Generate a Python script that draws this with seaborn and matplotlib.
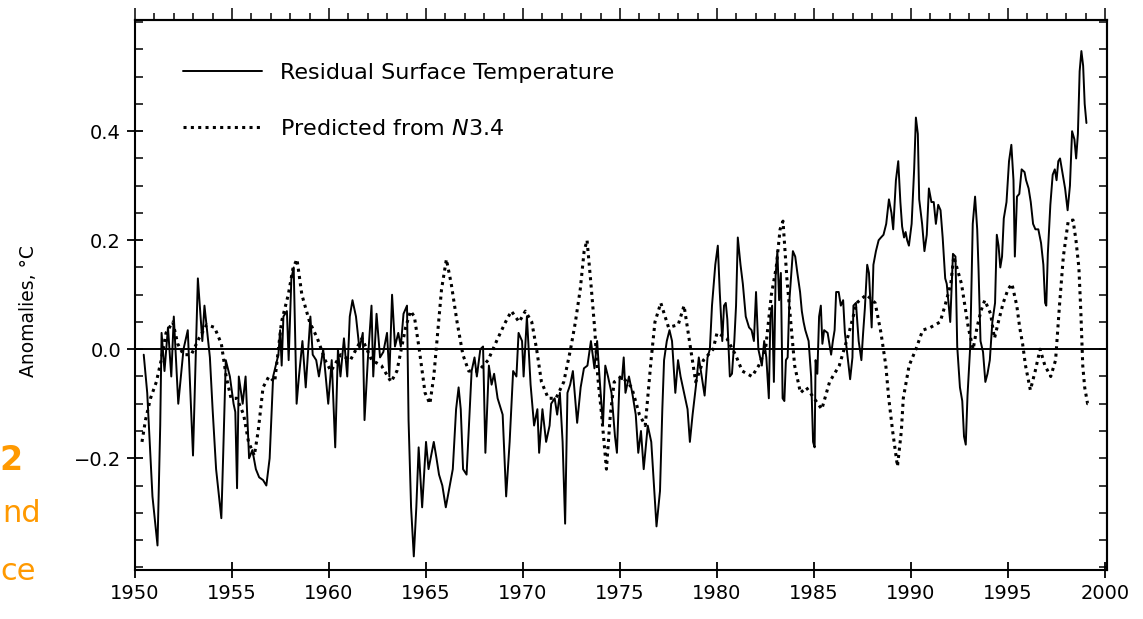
import matplotlib
matplotlib.use("Agg")
import matplotlib.pyplot as plt
import seaborn as sns
import pandas as pd
import numpy as np
from matplotlib.ticker import MultipleLocator

# ---------------- data ----------------
residual_years = [
    1950.45, 1950.63, 1950.90, 1951.16, 1951.30, 1951.37, 1951.52, 1951.70, 1951.87, 1952.00,
    1952.23, 1952.50, 1952.72, 1952.99, 1953.24, 1953.47, 1953.58, 1953.86, 1954.00, 1954.18,
    1954.45, 1954.54, 1954.68, 1954.89, 1955.08, 1955.17, 1955.26, 1955.35, 1955.55, 1955.70,
    1955.88, 1956.05, 1956.23, 1956.40, 1956.60, 1956.77, 1956.94, 1957.12, 1957.39, 1957.48,
    1957.56, 1957.65, 1957.83, 1957.92, 1958.06, 1958.18, 1958.33, 1958.45, 1958.63, 1958.80,
    1959.04, 1959.16, 1959.34, 1959.48, 1959.70, 1959.96, 1960.14, 1960.32, 1960.46, 1960.59,
    1960.77, 1960.94, 1961.07, 1961.21, 1961.39, 1961.57, 1961.74, 1961.83, 1962.00, 1962.19,
    1962.28, 1962.45, 1962.63, 1962.80, 1962.99, 1963.11, 1963.25, 1963.40, 1963.57, 1963.70,
    1963.84, 1964.02, 1964.10, 1964.23, 1964.37, 1964.50, 1964.62, 1964.80, 1965.00, 1965.13,
    1965.40, 1965.54, 1965.67, 1965.84, 1966.02, 1966.20, 1966.38, 1966.55, 1966.68, 1966.79,
    1966.91, 1967.09, 1967.27, 1967.35, 1967.50, 1967.62, 1967.80, 1967.94, 1968.06, 1968.24,
    1968.38, 1968.51, 1968.69, 1968.95, 1969.13, 1969.31, 1969.49, 1969.66, 1969.77, 1969.95,
    1970.03, 1970.20, 1970.39, 1970.57, 1970.74, 1970.83, 1971.00, 1971.19, 1971.37, 1971.45,
    1971.63, 1971.76, 1971.90, 1972.04, 1972.17, 1972.29, 1972.43, 1972.57, 1972.79, 1972.97,
    1973.14, 1973.32, 1973.50, 1973.68, 1973.82, 1973.94, 1974.12, 1974.24, 1974.38, 1974.56,
    1974.74, 1974.84, 1974.98, 1975.10, 1975.19, 1975.28, 1975.46, 1975.63, 1975.81, 1975.94,
    1976.08, 1976.22, 1976.43, 1976.61, 1976.75, 1976.88, 1977.06, 1977.18, 1977.27, 1977.41,
    1977.55, 1977.68, 1977.85, 1977.99, 1978.12, 1978.30, 1978.48, 1978.60, 1978.74, 1978.92,
    1979.06, 1979.19, 1979.36, 1979.51, 1979.63, 1979.74, 1979.91, 1980.04, 1980.14, 1980.27,
    1980.36, 1980.45, 1980.53, 1980.66, 1980.77, 1980.89, 1980.98, 1981.07, 1981.21, 1981.33,
    1981.48, 1981.65, 1981.78, 1981.90, 1982.01, 1982.13, 1982.31, 1982.43, 1982.54, 1982.67,
    1982.75, 1982.84, 1982.93, 1983.02, 1983.11, 1983.20, 1983.29, 1983.38, 1983.47, 1983.55,
    1983.64, 1983.73, 1983.91, 1984.03, 1984.14, 1984.28, 1984.37, 1984.46, 1984.55, 1984.72,
    1984.85, 1984.95, 1985.03, 1985.08, 1985.17, 1985.26, 1985.35, 1985.43, 1985.52, 1985.70,
    1985.88, 1985.97, 1986.06, 1986.14, 1986.27, 1986.38, 1986.50, 1986.59, 1986.73, 1986.86,
    1986.98, 1987.03, 1987.16, 1987.30, 1987.44, 1987.53, 1987.62, 1987.74, 1987.83, 1987.97,
    1988.06, 1988.19, 1988.33, 1988.45, 1988.58, 1988.72, 1988.86, 1988.99, 1989.08, 1989.22,
    1989.34, 1989.45, 1989.54, 1989.64, 1989.72, 1989.80, 1989.89, 1990.03, 1990.16, 1990.25,
    1990.35, 1990.42, 1990.57, 1990.69, 1990.81, 1990.92, 1991.05, 1991.17, 1991.28, 1991.40,
    1991.52, 1991.63, 1991.76, 1991.84, 1991.93, 1992.02, 1992.16, 1992.29, 1992.38, 1992.52,
    1992.64, 1992.73, 1992.82, 1992.91, 1993.05, 1993.18, 1993.30, 1993.41, 1993.48, 1993.58,
    1993.71, 1993.83, 1993.94, 1994.06, 1994.19, 1994.33, 1994.42, 1994.51, 1994.60, 1994.69,
    1994.78, 1994.92, 1995.05, 1995.17, 1995.28, 1995.35, 1995.46, 1995.58, 1995.70, 1995.85,
    1995.93, 1996.06, 1996.17, 1996.29, 1996.41, 1996.56, 1996.70, 1996.82, 1996.91, 1996.97,
    1997.05, 1997.18, 1997.30, 1997.41, 1997.50, 1997.59, 1997.68, 1997.80, 1997.94, 1998.07,
    1998.19, 1998.30, 1998.42, 1998.51, 1998.60, 1998.69, 1998.78, 1998.87, 1998.95, 1999.04,
]
residual_values = [
    -0.01, -0.08, -0.27, -0.36, -0.14, 0.03, -0.04, 0.04, -0.05, 0.06,
    -0.10, 0.00, 0.035, -0.195, 0.13, 0.015, 0.08, -0.015, -0.11, -0.22,
    -0.31, -0.20, -0.02, -0.05, -0.10, -0.115, -0.255, -0.05, -0.10, -0.05,
    -0.20, -0.185, -0.22, -0.235, -0.24, -0.25, -0.20, -0.05, -0.01, 0.035,
    -0.03, 0.06, 0.07, -0.02, 0.13, 0.15, -0.10, -0.05, 0.015, -0.07,
    0.06, -0.01, -0.02, -0.05, 0.00, -0.10, -0.02, -0.18, 0.00, -0.05,
    0.02, -0.05, 0.06, 0.09, 0.06, 0.00, 0.03, -0.13, -0.02, 0.08,
    -0.05, 0.065, -0.015, -0.005, 0.03, -0.05, 0.10, 0.005, 0.03, 0.005,
    0.065, 0.08, -0.13, -0.29, -0.38, -0.29, -0.18, -0.29, -0.17, -0.22,
    -0.17, -0.20, -0.23, -0.25, -0.29, -0.255, -0.22, -0.11, -0.07, -0.11,
    -0.22, -0.23, -0.10, -0.04, -0.015, -0.05, 0.00, 0.005, -0.19, -0.03,
    -0.065, -0.045, -0.09, -0.12, -0.27, -0.17, -0.04, -0.05, 0.03, 0.015,
    -0.05, 0.06, -0.065, -0.14, -0.11, -0.19, -0.11, -0.17, -0.14, -0.10,
    -0.09, -0.12, -0.08, -0.17, -0.32, -0.08, -0.065, -0.04, -0.135, -0.07,
    -0.035, -0.03, 0.015, -0.035, 0.015, -0.05, -0.14, -0.03, -0.05, -0.08,
    -0.16, -0.19, -0.05, -0.055, -0.015, -0.08, -0.05, -0.08, -0.12, -0.19,
    -0.15, -0.22, -0.14, -0.17, -0.25, -0.325, -0.26, -0.11, -0.02, 0.015,
    0.035, 0.015, -0.08, -0.02, -0.05, -0.08, -0.11, -0.17, -0.12, -0.065,
    -0.015, -0.045, -0.085, -0.015, 0.00, 0.08, 0.155, 0.19, 0.105, 0.015,
    0.08, 0.085, 0.055, -0.05, -0.045, 0.015, 0.08, 0.205, 0.155, 0.12,
    0.06, 0.04, 0.035, 0.015, 0.105, 0.00, -0.03, 0.015, -0.015, -0.09,
    0.06, 0.08, -0.06, 0.135, 0.18, 0.09, 0.14, -0.09, -0.095, -0.02,
    -0.015, 0.09, 0.18, 0.17, 0.14, 0.105, 0.07, 0.05, 0.035, 0.015,
    -0.05, -0.17, -0.18, -0.02, -0.045, 0.06, 0.08, 0.01, 0.035, 0.03,
    -0.01, 0.015, 0.035, 0.105, 0.105, 0.08, 0.09, 0.03, -0.015, -0.055,
    -0.015, 0.08, 0.085, 0.015, -0.02, 0.03, 0.075, 0.155, 0.14, 0.04,
    0.155, 0.18, 0.20, 0.205, 0.21, 0.23, 0.275, 0.25, 0.22, 0.31,
    0.345, 0.27, 0.225, 0.205, 0.215, 0.20, 0.19, 0.23, 0.33, 0.425,
    0.395, 0.275, 0.23, 0.18, 0.21, 0.295, 0.27, 0.27, 0.23, 0.265,
    0.255, 0.205, 0.13, 0.12, 0.085, 0.05, 0.175, 0.17, 0.005, -0.07,
    -0.095, -0.16, -0.175, -0.085, 0.005, 0.23, 0.28, 0.22, 0.145, 0.015,
    -0.005, -0.06, -0.045, -0.02, 0.05, 0.085, 0.21, 0.19, 0.15, 0.17,
    0.24, 0.27, 0.345, 0.375, 0.31, 0.17, 0.28, 0.285, 0.33, 0.325,
    0.31, 0.295, 0.27, 0.23, 0.22, 0.22, 0.195, 0.155, 0.085, 0.08,
    0.175, 0.265, 0.32, 0.33, 0.31, 0.345, 0.35, 0.325, 0.295, 0.255,
    0.30, 0.40, 0.385, 0.35, 0.395, 0.51, 0.547, 0.52, 0.45, 0.415,
]

predicted_years = [
    1950.36, 1950.54, 1950.80, 1951.10, 1951.35, 1951.60, 1951.95, 1952.20, 1952.50, 1952.90,
    1953.30, 1953.70, 1954.10, 1954.45, 1954.70, 1954.95, 1955.25, 1955.60, 1955.85, 1956.15,
    1956.35, 1956.60, 1956.90, 1957.20, 1957.55, 1957.90, 1958.15, 1958.35, 1958.60, 1959.00,
    1959.40, 1959.80, 1960.10, 1960.60, 1961.10, 1961.70, 1962.20, 1962.70, 1963.20, 1963.50,
    1963.95, 1964.20, 1964.40, 1964.65, 1964.95, 1965.20, 1965.40, 1965.60, 1965.80, 1966.05,
    1966.30, 1966.60, 1966.90, 1967.20, 1967.70, 1968.20, 1968.70, 1969.10, 1969.40, 1969.80,
    1970.12, 1970.45, 1970.70, 1970.95, 1971.30, 1971.70, 1972.10, 1972.45, 1972.70, 1972.95,
    1973.15, 1973.30, 1973.50, 1973.70, 1973.85, 1974.05, 1974.30, 1974.50, 1974.70, 1975.10,
    1975.60, 1976.00, 1976.30, 1976.60, 1976.80, 1977.10, 1977.50, 1978.00, 1978.30, 1978.60,
    1978.90, 1979.30, 1979.80, 1980.00, 1980.50, 1980.95, 1981.30, 1981.80, 1982.15, 1982.50,
    1982.65, 1982.80, 1983.05, 1983.25, 1983.40, 1983.60, 1983.80, 1984.00, 1984.30, 1984.60,
    1985.00, 1985.40, 1985.80, 1986.30, 1986.80, 1987.20, 1987.70, 1988.15, 1988.45, 1988.70,
    1988.85, 1989.05, 1989.30, 1989.50, 1989.60, 1989.90, 1990.25, 1990.60, 1991.00, 1991.50,
    1991.75, 1992.05, 1992.20, 1992.60, 1992.95, 1993.20, 1993.40, 1993.60, 1993.80, 1994.10,
    1994.30, 1994.50, 1994.75, 1995.00, 1995.20, 1995.45, 1995.60, 1995.75, 1995.90, 1996.15,
    1996.40, 1996.65, 1996.90, 1997.20, 1997.45, 1997.65, 1997.85, 1998.10, 1998.35, 1998.50,
    1998.65, 1998.75, 1998.85, 1998.95, 1999.10, 1999.22,
]
predicted_values = [
    -0.17, -0.13, -0.09, -0.06, -0.02, 0.03, 0.05, 0.01, -0.01, -0.01,
    0.02, 0.045, 0.04, 0.01, -0.05, -0.09, -0.09, -0.12, -0.17, -0.195,
    -0.15, -0.07, -0.05, -0.06, 0.05, 0.10, 0.15, 0.165, 0.10, 0.05,
    0.02, -0.02, -0.04, -0.01, -0.02, 0.02, -0.02, -0.03, -0.06, -0.04,
    0.04, 0.07, 0.06, 0.00, -0.08, -0.10, -0.05, 0.03, 0.11, 0.165,
    0.12, 0.05, -0.01, -0.04, -0.04, -0.02, 0.02, 0.05, 0.07, 0.05,
    0.07, 0.05, 0.00, -0.06, -0.09, -0.09, -0.06, 0.00, 0.05, 0.11,
    0.18, 0.20, 0.12, 0.035, -0.05, -0.12, -0.22, -0.12, -0.06, -0.05,
    -0.07, -0.12, -0.14, -0.02, 0.05, 0.085, 0.04, 0.045, 0.08, 0.01,
    -0.06, -0.02, 0.00, 0.03, 0.02, -0.01, -0.04, -0.05, -0.03, 0.00,
    0.05, 0.10, 0.15, 0.22, 0.235, 0.13, 0.05, -0.03, -0.08, -0.07,
    -0.09, -0.11, -0.06, -0.03, 0.03, 0.085, 0.10, 0.085, 0.03, -0.03,
    -0.09, -0.15, -0.215, -0.15, -0.09, -0.03, 0.00, 0.035, 0.04, 0.05,
    0.08, 0.12, 0.17, 0.12, 0.04, 0.00, 0.04, 0.07, 0.09, 0.065,
    0.02, 0.05, 0.085, 0.11, 0.12, 0.08, 0.04, 0.01, -0.03, -0.075,
    -0.04, 0.00, -0.03, -0.05, -0.02, 0.08, 0.17, 0.235, 0.237, 0.20,
    0.15, 0.07, -0.03, -0.07, -0.10, -0.10,
]

series_labels = ["Residual Surface Temperature", r"Predicted from $\mathit{N3.4}$"]
x_tick_labels = ["1950", "1955", "1960", "1965", "1970", "1975", "1980", "1985", "1990", "1995", "2000"]
y_tick_labels = ["\u22120.2", "0.0", "0.2", "0.4"]
y_label = "Anomalies, \u00b0C"
side_texts = ["2", "nd", "ce"]

# ---------------- figure ----------------
sns.set_style("white")
plt.rcParams["font.family"] = ["DejaVu Sans"]
plt.rcParams["mathtext.fontset"] = "dejavusans"
plt.rcParams["text.color"] = "black"

W, H = 1143, 619
fig = plt.figure(figsize=(W / 100, H / 100), dpi=100)
L, R, T, B = 135, 1107, 20, 570
ax = fig.add_axes([L / W, 1 - B / H, (R - L) / W, (B - T) / H])

df_res = pd.DataFrame({"year": residual_years, "anom": residual_values})
df_pred = pd.DataFrame({"year": predicted_years, "anom": predicted_values})

sns.lineplot(data=df_res, x="year", y="anom", ax=ax, color="black", lw=1.4,
             label=series_labels[0], estimator=None, sort=False)
sns.lineplot(data=df_pred, x="year", y="anom", ax=ax, color="black", lw=2.2,
             linestyle=(0, (1, 1.4)), label=series_labels[1], estimator=None, sort=False)
for ln in ax.lines[-1:]:
    ln.set_dash_capstyle("butt")

ax.axhline(0, color="black", lw=1.4, zorder=1)

ax.set_xlim(1950, 2000.1)
ax.set_ylim(-0.405, 0.604)
ax.set_xlabel("")
ax.set_ylabel("")

xt = [int(s) for s in x_tick_labels]
ax.set_xticks(xt)
ax.set_xticklabels(x_tick_labels, fontsize=14)
yt = [float(s.replace("\u2212", "-")) for s in y_tick_labels]
ax.set_yticks(yt)
ax.set_yticklabels(y_tick_labels, fontsize=14)
ax.xaxis.set_minor_locator(MultipleLocator(1))
ax.yaxis.set_minor_locator(MultipleLocator(0.05))

ax.tick_params(axis="both", which="major", direction="inout", length=12, width=1.3,
               colors="black", pad=4, bottom=True, left=True, top=False, right=False)
ax.tick_params(axis="x", which="minor", direction="in", length=0, bottom=False)
ax.tick_params(axis="y", which="minor", direction="in", length=6, width=1.3, left=True)

for sp in ax.spines.values():
    sp.set_color("black")
    sp.set_linewidth(1.5)

# top axis: outward yearly ticks
top = ax.secondary_xaxis("top")
top.set_xticks(xt)
top.set_xticklabels([])
top.xaxis.set_minor_locator(MultipleLocator(1))
top.tick_params(which="major", direction="out", length=9, width=1.3)
top.tick_params(which="minor", direction="out", length=5, width=1.3)
top.spines["top"].set_linewidth(1.5)

# right axis: inward ticks
right = ax.secondary_yaxis("right")
right.set_yticks(yt)
right.set_yticklabels([])
right.yaxis.set_minor_locator(MultipleLocator(0.05))
right.tick_params(which="both", direction="in", length=6, width=1.3)
right.spines["right"].set_linewidth(1.5)

leg = ax.legend(loc="upper left", bbox_to_anchor=((183 - L) / (R - L), (B - 63) / (B - T)),
                frameon=False, fontsize=16, handlelength=3.55, handletextpad=0.8,
                labelspacing=1.6, borderpad=0, borderaxespad=0)
for t in leg.get_texts():
    t.set_color("black")

fig.text(28 / W, 1 - 311 / H, y_label, rotation=90, ha="center", va="center",
         fontsize=13.5, color="black")

orange = "#FF9900"
fig.text(22 / W, 1 - 461 / H, side_texts[0], ha="right", va="center", fontsize=24,
         fontweight="bold", color=orange)
fig.text(41 / W, 1 - 514 / H, side_texts[1], ha="right", va="center", fontsize=22, color=orange)
fig.text(36 / W, 1 - 572 / H, side_texts[2], ha="right", va="center", fontsize=22, color=orange)

fig.savefig("out.png", dpi=100)
